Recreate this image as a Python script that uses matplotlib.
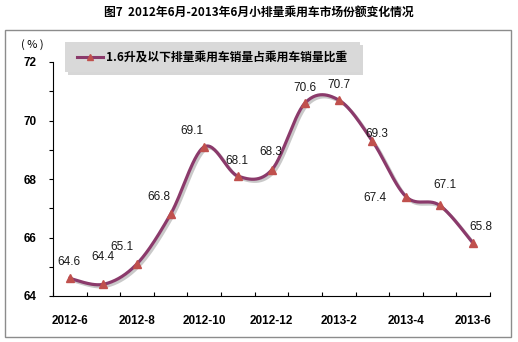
import numpy as np
import matplotlib
matplotlib.use("Agg")
import matplotlib.pyplot as plt
from matplotlib.patches import Rectangle
import matplotlib.patheffects as pe

plt.rcParams['font.family'] = ['Noto Sans CJK SC', 'DejaVu Sans']

months = ["2012-6", "2012-7", "2012-8", "2012-9", "2012-10", "2012-11", "2012-12",
          "2013-1", "2013-2", "2013-3", "2013-4", "2013-5", "2013-6"]
share = [64.6, 64.4, 65.1, 66.8, 69.1, 68.1, 68.3, 70.6, 70.7, 69.3, 67.4, 67.1, 65.8]
# label offsets in pixels (dx, dy) relative to each point
label_off = [(-1, 16), (0, 27), (-15, 17), (-12, 17), (-12, 16), (-1, 15), (-1, 18),
             (0, 15), (0, 15), (4, 7), (-31, -1), (5, 20), (8, 16)]

title = "图7  2012年6月-2013年6月小排量乘用车市场份额变化情况"
series_name = "1.6升及以下排量乘用车销量占乘用车销量比重"

line_color = "#8B3A6B"
marker_color = "#C0504D"
num_font = ['Liberation Sans', 'DejaVu Sans']


def smooth(xs, ys, sx=33.6, sy=29.25, n=30):
    # Excel-like Bezier smoothing computed in screen-ish units
    p = np.column_stack([np.asarray(xs, float) * sx, np.asarray(ys, float) * sy])
    out = [p[0]]
    for i in range(len(p) - 1):
        p0 = p[i - 1] if i > 0 else p[i]
        p3 = p[i + 2] if i + 2 < len(p) else p[i + 1]
        c1 = p[i] + (p[i + 1] - p0) / 6
        c2 = p[i + 1] - (p3 - p[i]) / 6
        t = np.linspace(0, 1, n)[1:, None]
        seg = ((1 - t) ** 3 * p[i] + 3 * (1 - t) ** 2 * t * c1
               + 3 * (1 - t) * t ** 2 * c2 + t ** 3 * p[i + 1])
        out.extend(seg)
    out = np.array(out)
    return out[:, 0] / sx, out[:, 1] / sy


fig = plt.figure(figsize=(5.18, 3.42), dpi=100)
fig.patch.set_facecolor("white")

# outer frame
fig.patches.append(Rectangle((5 / 518, 5 / 342), 506 / 518, 307 / 342, transform=fig.transFigure,
                             fill=False, edgecolor="#8c8c8c", linewidth=1.0))

fig.text(0.5, 1 - 12 / 342, title, ha="center", va="center", fontsize=8.5, fontweight="bold")

ax = fig.add_axes([53 / 518, 46 / 342, 437 / 518, 234 / 342])
x = np.arange(len(months))
sx, sy = smooth(x, share)
ax.plot(sx, sy, color=line_color, linewidth=2.3, zorder=3,
        path_effects=[pe.SimpleLineShadow(offset=(1.5, -1.5), shadow_color="#888888", alpha=0.45),
                      pe.Normal()])
ax.plot(x, share, linestyle="none", marker="^", markersize=6, color=marker_color, zorder=4)

for xi, v, (dx, dy) in zip(x, share, label_off):
    ax.annotate(f"{v:.1f}", (xi, v), xytext=(dx * 0.72, dy * 0.72), textcoords="offset points",
                ha="center", va="center", fontsize=8.5, color="#1a1a1a", family=num_font)

ax.set_xlim(-0.5, len(months) - 0.5)
ax.set_ylim(64, 72)
ax.set_yticks([64, 66, 68, 70, 72])
ax.set_yticks([65, 67, 69, 71], minor=True)
ax.set_xticks(np.arange(-0.5, len(months), 1.0))
ax.set_xticklabels([])
ax.set_xticks(x[::2], minor=True)
ax.set_xticklabels(months[::2], minor=True, fontsize=8.5, fontweight="bold", family=num_font)
ax.tick_params(axis="x", which="minor", length=0, pad=14)
ax.tick_params(axis="x", which="major", length=3, direction="in", width=0.8)
ax.tick_params(axis="y", which="both", length=3, direction="out", width=0.8)
ax.tick_params(axis="y", which="major", labelsize=8.5, pad=9)
for lab in ax.get_yticklabels():
    lab.set_fontweight("bold")
    lab.set_family(num_font)
for s in ["top", "right"]:
    ax.spines[s].set_visible(False)
for s in ["left", "bottom"]:
    ax.spines[s].set_linewidth(0.8)
ax.patch.set_alpha(0)

fig.text(32 / 518, 1 - 45 / 342, "( % )", ha="center", va="center", fontsize=8)

# legend box with shadow
fig.patches.append(Rectangle((68 / 518, 1 - 75 / 342), 295 / 518, 30 / 342, transform=fig.transFigure,
                             facecolor="#bdbdbd", edgecolor="none", alpha=0.6, zorder=5))
fig.patches.append(Rectangle((65 / 518, 1 - 72 / 342), 295 / 518, 30 / 342, transform=fig.transFigure,
                             facecolor="#d9d9d9", edgecolor="none", zorder=6))
lx0, lx1, ly = 77 / 518, 103 / 518, 1 - 57 / 342
fig.add_artist(plt.Line2D([lx0, lx1], [ly, ly], transform=fig.transFigure, color=line_color,
                          linewidth=2.2, zorder=7))
fig.add_artist(plt.Line2D([(lx0 + lx1) / 2], [ly], transform=fig.transFigure, marker="^",
                          markersize=5, color=marker_color, zorder=8))
fig.text(106 / 518, ly, series_name, ha="left", va="center", fontsize=8.5, fontweight="bold", zorder=8)

fig.savefig("out.png", dpi=100)
